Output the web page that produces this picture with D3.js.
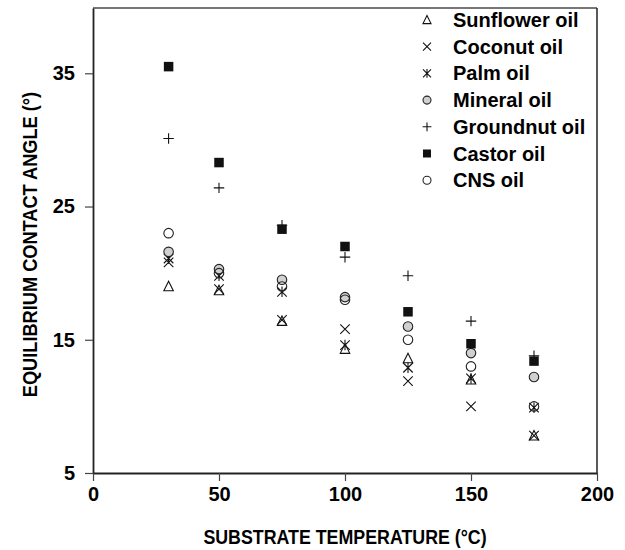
<!DOCTYPE html>
<html>
<head>
<meta charset="utf-8">
<script src="https://cdn.jsdelivr.net/npm/d3@7"></script>
<style>
  body { margin: 0; background: #fff; }
  text { font-family: "Liberation Sans", Arial, sans-serif; font-weight: bold; fill: #000; }
</style>
</head>
<body>
<svg id="chart" width="625" height="550"></svg>
<script>
// temperatures (°C)
let temps = [30, 50, 75, 100, 125, 150, 175];

// contact angles per oil
let sunflower = [19.0, 18.7, 16.4, 14.3, 13.6, 12.0, 7.8];
let coconut   = [20.8, 18.8, 16.5, 15.8, 11.9, 10.0, 7.8];
let palm      = [21.1, 19.8, 18.6, 14.6, 12.9, 12.1, 9.9];
let mineral   = [21.6, 20.3, 19.5, 18.2, 16.0, 14.0, 12.2];
let groundnut = [30.1, 26.4, 23.6, 21.2, 19.8, 16.4, 13.8];
let castor    = [35.5, 28.3, 23.3, 22.0, 17.1, 14.7, 13.4];
let cns       = [23.0, 20.0, 19.0, 18.0, 15.0, 13.0, 10.0];

let oilNames = ['Sunflower oil', 'Coconut oil', 'Palm oil', 'Mineral oil',
                'Groundnut oil', 'Castor oil', 'CNS oil'];
let oilSymbols = ['triangle', 'cross', 'asterisk', 'greyCircle', 'plus', 'square', 'circle'];
let oilValues = [sunflower, coconut, palm, mineral, groundnut, castor, cns];

let xTicks = [0, 50, 100, 150, 200];
let yTicks = [5, 15, 25, 35];

let svg = d3.select('#chart');
let margin = {l: 93, r: 28, t: 8, b: 77};
let w = 625 - margin.l - margin.r;
let h = 550 - margin.t - margin.b;

let xScale = d3.scaleLinear().domain([0, 200]).range([0, w]);
let yScale = d3.scaleLinear().domain([5, 39.9]).range([h, 0]);

let canvas = svg.append('g')
    .attr('transform', `translate(${margin.l}, ${margin.t})`);

// frame: top and right lines
canvas.append('line').attr('x1', 0).attr('x2', w).attr('y1', 0).attr('y2', 0)
    .attr('stroke', '#777').attr('stroke-width', 2);
canvas.append('line').attr('x1', w).attr('x2', w).attr('y1', 0).attr('y2', h)
    .attr('stroke', '#222').attr('stroke-width', 1.5);

// axes
let axisX = d3.axisBottom(xScale).tickValues(xTicks).tickSize(8).tickSizeOuter(0).tickPadding(6);
let axisY = d3.axisLeft(yScale).tickValues(yTicks).tickSize(8).tickSizeOuter(0).tickPadding(10);

let gx = canvas.append('g').attr('transform', `translate(0, ${h})`).call(axisX);
let gy = canvas.append('g').call(axisY);

[gx, gy].forEach(g => {
    g.select('.domain').attr('stroke', '#222').attr('stroke-width', 1.8);
    g.selectAll('.tick line').attr('stroke', '#444').attr('stroke-width', 1.2);
    g.selectAll('.tick text').style('font-size', '20px').attr('fill', '#000');
});

// axis titles (narrowed a bit, the original face is condensed)
svg.append('text')
    .attr('transform', `translate(${margin.l + w / 2}, 544) scale(0.89, 1)`)
    .attr('text-anchor', 'middle')
    .style('font-size', '20px')
    .text('SUBSTRATE TEMPERATURE (°C)');

svg.append('text')
    .attr('transform', `translate(37, ${margin.t + h / 2 + 4}) rotate(-90) scale(0.91, 1)`)
    .attr('text-anchor', 'middle')
    .style('font-size', '20px')
    .text('EQUILIBRIUM CONTACT ANGLE (°)');

// symbol drawer
let drawSymbol = function(g, type, s){
    let r = s / 2;
    if (type === 'triangle'){
        g.append('path')
            .attr('d', `M0,${-r * 1.1}L${r},${r * 0.9}L${-r},${r * 0.9}Z`)
            .attr('fill', 'none').attr('stroke', '#111').attr('stroke-width', 1.1);
    } else if (type === 'cross'){
        g.append('path')
            .attr('d', `M${-r},${-r}L${r},${r}M${-r},${r}L${r},${-r}`)
            .attr('stroke', '#111').attr('stroke-width', 1.1);
    } else if (type === 'asterisk'){
        g.append('path')
            .attr('d', `M${-r},${-r}L${r},${r}M${-r},${r}L${r},${-r}M0,${-r * 1.1}L0,${r * 1.1}`)
            .attr('stroke', '#111').attr('stroke-width', 1.1);
    } else if (type === 'greyCircle'){
        g.append('circle').attr('r', r)
            .attr('fill', '#d0d0d0').attr('stroke', '#222').attr('stroke-width', 1.1);
    } else if (type === 'circle'){
        g.append('circle').attr('r', r)
            .attr('fill', 'none').attr('stroke', '#222').attr('stroke-width', 1.1);
    } else if (type === 'plus'){
        g.append('path')
            .attr('d', `M${-r * 1.1},0L${r * 1.1},0M0,${-r * 1.1}L0,${r * 1.1}`)
            .attr('stroke', '#111').attr('stroke-width', 1.1);
    } else if (type === 'square'){
        g.append('rect').attr('x', -r).attr('y', -r).attr('width', s).attr('height', s)
            .attr('fill', '#111');
    }
};

// data points
oilValues.forEach((vals, i) => {
    let pts = canvas.append('g').attr('class', 'series')
        .selectAll('g')
        .data(temps.map((t, j) => ({t: t, v: vals[j]})))
        .join('g')
        .attr('transform', d => `translate(${xScale(d.t)}, ${yScale(d.v)})`);
    pts.each(function(){ drawSymbol(d3.select(this), oilSymbols[i], 9.5); });
});

// legend
let legend = svg.append('g').attr('transform', 'translate(427, 20)');
oilNames.forEach((name, i) => {
    let row = legend.append('g').attr('transform', `translate(0, ${i * 26.7})`);
    drawSymbol(row, oilSymbols[i], 8);
    row.append('text')
        .attr('x', 26)
        .attr('y', 7)
        .style('font-size', '20px')
        .text(name);
});
</script>
</body>
</html>
